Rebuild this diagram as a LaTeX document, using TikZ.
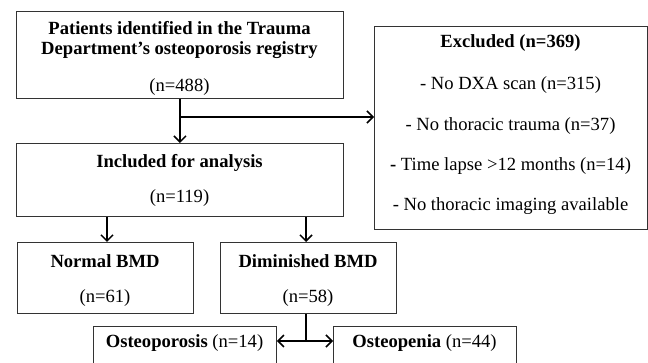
\documentclass[tikz,border=0pt]{standalone}
\usepackage{fontspec}
\setmainfont{Liberation Serif}
\usetikzlibrary{arrows.meta,calc}
\tikzset{
  box/.style={draw=black!80,line width=0.9pt,rectangle,inner sep=0pt,anchor=north west},
  txt/.style={inner sep=0pt,font=\fontsize{18.6}{20}\selectfont},
  ttl/.style={inner sep=0pt,font=\fontsize{18.6}{20}\selectfont\bfseries},
  arr/.style={line width=1.5pt,-{Straight Barb[length=6pt,width=12pt,line width=1.5pt]}},
  ln/.style={line width=1.5pt}
}
\begin{document}
\begin{tikzpicture}[x=1pt,y=-1pt]
\useasboundingbox (0,0) rectangle (648,363);
\clip (0,0) rectangle (648,363);
% boxes
\node[box,minimum width=327pt,minimum height=87pt] (reg) at (16,11) {};
\node[box,minimum width=273pt,minimum height=203pt] (exc) at (374,26) {};
\node[box,minimum width=327pt,minimum height=73pt] (inc) at (16,143) {};
\node[box,minimum width=176pt,minimum height=71pt] (norm) at (17,242) {};
\node[box,minimum width=176pt,minimum height=71pt] (dim) at (220,242) {};
\node[box,minimum width=183pt,minimum height=60pt] (osp) at (93,326) {};
\node[box,minimum width=183pt,minimum height=60pt] (ope) at (333,326) {};
% texts
\node[ttl,align=center] (t1) at (179.5,40) {Patients identified in the Trauma\\Department’s osteoporosis registry};
\node[txt] (t3) at (179.5,87) {(n=488)};
\node[ttl] (e1) at (510.5,43) {Excluded (n=369)};
\node[txt] (e2) at (510.5,85) {- No DXA scan (n=315)};
\node[txt] (e3) at (510.5,126) {- No thoracic trauma (n=37)};
\node[txt] (e4) at (510.5,166) {\textbf{-} Time lapse >12 months (n=14)};
\node[txt] (e5) at (510.5,206) {- No thoracic imaging available};
\node[ttl] (i1) at (179.5,163) {Included for analysis};
\node[txt] (i2) at (179.5,198) {(n=119)};
\node[ttl] (n1) at (105,261) {Normal BMD};
\node[txt] (n2) at (105,298) {(n=61)};
\node[ttl] (d1) at (308,261) {Diminished BMD};
\node[txt] (d2) at (308,298) {(n=58)};
\node[txt] (o1) at (184.5,343) {\textbf{Osteoporosis} (n=14)};
\node[txt] (o2) at (424.5,343) {\textbf{Osteopenia} (n=44)};
% connectors
\draw[arr] (reg.south) -- (inc.north);
\coordinate (br) at (reg.south |- 0,117);
\draw[arr] (br) -- (br -| exc.west);
\draw[arr] (inc.south -| 107,0) -- (norm.north -| 107,0);
\draw[arr] (inc.south -| 306,0) -- (dim.north -| 306,0);
\coordinate (split) at (306,341);
\draw[ln] (dim.south -| split) -- (split);
\draw[arr] (split) -- (split -| osp.east);
\draw[arr] (split) -- (split -| ope.west);
\end{tikzpicture}
\end{document}
